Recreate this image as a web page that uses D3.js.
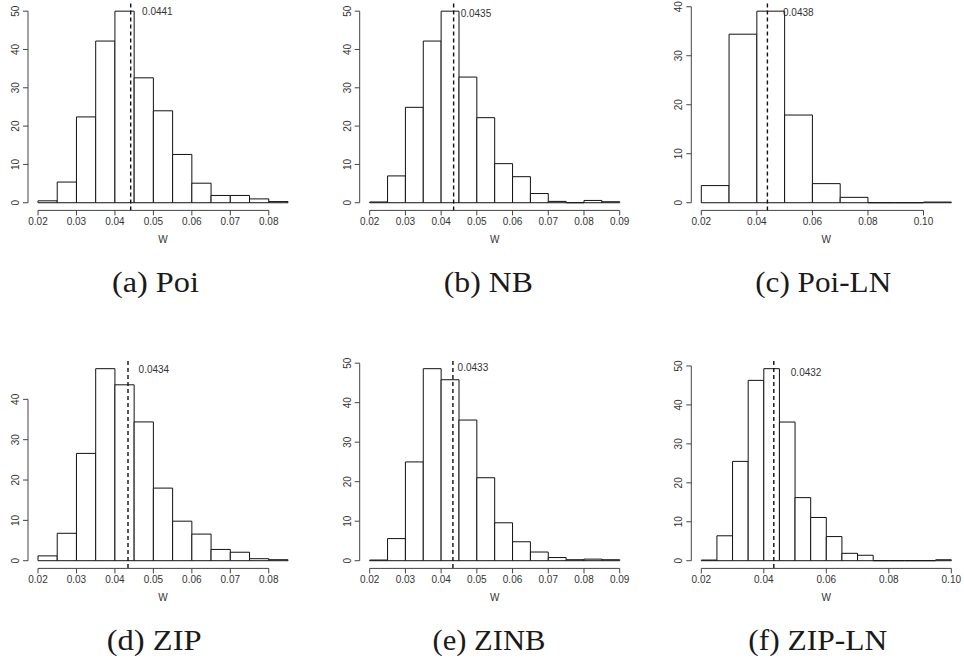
<!DOCTYPE html>
<html>
<head>
<meta charset="utf-8">
<script src="https://cdn.jsdelivr.net/npm/d3@7"></script>
<style>
  body { margin: 0; background: #fff; }
  svg { display: block; }
  .tick-label { font-family: "Liberation Sans", Arial, sans-serif; font-size: 10px; fill: #333; }
</style>
</head>
<body>
<div id="chart"></div>
<script>
// panel captions
const captions = ['(a) Poi', '(b) NB', '(c) Poi-LN', '(d) ZIP', '(e) ZINB', '(f) ZIP-LN'];

// histogram breaks: first break and bin width
const binStart = [0.02, 0.02, 0.02, 0.02, 0.02, 0.02];
const binWidth = [0.005, 0.005, 0.01, 0.005, 0.005, 0.005];

// bar heights (density)
const densPoi = [0.5, 5.4, 22.4, 42.2, 50.0, 32.6, 24.0, 12.6, 5.1, 1.9, 1.9, 1.0, 0.3];
const densNB = [0.2, 7.0, 24.9, 42.2, 50.0, 32.8, 22.2, 10.2, 6.8, 2.4, 0.35, 0, 0.6, 0.26];
const densPoiLN = [3.5, 34.4, 39.1, 17.9, 3.9, 1.1, 0, 0, 0.14];
const densZIP = [1.2, 6.8, 26.6, 47.6, 43.6, 34.4, 18.0, 9.8, 6.6, 2.8, 2.1, 0.5, 0.25];
const densZINB = [0.17, 5.6, 25.0, 48.6, 45.8, 35.6, 21.0, 9.6, 4.8, 2.2, 0.8, 0.25, 0.4, 0.25];
const densZIPLN = [0.17, 6.4, 25.5, 46.3, 49.3, 35.6, 16.2, 11.1, 6.2, 1.9, 1.4, 0, 0, 0, 0, 0.25];
const densities = [densPoi, densNB, densPoiLN, densZIP, densZINB, densZIPLN];

// mean of W, drawn as dashed line
const means = [0.0441, 0.0435, 0.0438, 0.0434, 0.0433, 0.0432];

// axis tick values
const xTicks7 = [0.02, 0.03, 0.04, 0.05, 0.06, 0.07, 0.08];
const xTicks8 = [0.02, 0.03, 0.04, 0.05, 0.06, 0.07, 0.08, 0.09];
const xTicks5 = [0.02, 0.04, 0.06, 0.08, 0.10];
const xTicks = [xTicks7, xTicks8, xTicks5, xTicks7, xTicks8, xTicks5];
const yTicks50 = [0, 10, 20, 30, 40, 50];
const yTicks40 = [0, 10, 20, 30, 40];
const yTicks = [yTicks50, yTicks50, yTicks40, yTicks40, yTicks50, yTicks50];

const xLabel = 'W';

// layout (pixels) for each panel
const colLeft = [28, 359.7, 691.3];
const rowTop = [3.5, 361];
const rowHeight = [206.9, 207.4];
const plotWidth = 270;
const captionX = [155.4, 488.3, 823.2, 154.2, 489, 817.8];
const captionW = [87, 89, 136, 95, 113, 139];
const captionBase = [291.7, 650];
// mean label offset: pixels right of the line, height in data units
const labelDx = [11.4, 7, 15.6, 10.6, 4.7, 17];
const labelY = [50.0, 49.5, 38.9, 47.3, 49.0, 48.3];

class HistogramGrid {
  constructor() {
    this.svg = d3.select('#chart').append('svg')
      .attr('width', 964)
      .attr('height', 664);
    this.fmtX = d3.format('.2f');
    this.fmtMean = d3.format('.4f');
  }

  draw() {
    densities.forEach((dens, i) => this.drawPanel(i, dens));
  }

  drawPanel(i, dens) {
    const col = i % 3, row = Math.floor(i / 3);
    const left = colLeft[col], top = rowTop[row], h = rowHeight[row];

    // bins from the breaks
    const bins = dens.map((d, k) => ({
      x0: binStart[i] + k * binWidth[i],
      x1: binStart[i] + (k + 1) * binWidth[i],
      value: d
    }));

    // R style: 4% padding around data range
    const xmin = bins[0].x0, xmax = bins[bins.length - 1].x1;
    const xpad = (xmax - xmin) * 0.04;
    const ymax = d3.max(dens);
    const ypad = ymax * 0.04;

    const x = d3.scaleLinear()
      .domain([xmin - xpad, xmax + xpad])
      .range([left, left + plotWidth]);
    const y = d3.scaleLinear()
      .domain([-ypad, ymax + ypad])
      .range([top + h, top]);

    const g = this.svg.append('g').attr('class', 'panel');

    // bars (paths so zero-height bins still show as a line)
    g.selectAll('path.bar')
      .data(bins)
      .enter()
      .append('path')
      .attr('class', 'bar')
      .attr('d', d => `M${x(d.x0)},${y(0)}V${y(d.value)}H${x(d.x1)}V${y(0)}Z`)
      .attr('fill', '#fff')
      .attr('stroke', '#111')
      .attr('stroke-width', 1);

    // dashed mean line
    g.append('line')
      .attr('x1', x(means[i])).attr('x2', x(means[i]))
      .attr('y1', top).attr('y2', top + h)
      .attr('stroke', '#111')
      .attr('stroke-width', 1.4)
      .attr('stroke-dasharray', '4,3');

    g.append('text')
      .attr('class', 'tick-label')
      .attr('x', x(means[i]) + labelDx[i])
      .attr('y', y(labelY[i]))
      .attr('dy', '0.35em')
      .text(this.fmtMean(means[i]));

    // x axis
    const xAxisY = top + h;
    const xt = xTicks[i];
    const xAxis = g.append('g');
    xAxis.append('line')
      .attr('x1', x(xt[0])).attr('x2', x(xt[xt.length - 1]))
      .attr('y1', xAxisY).attr('y2', xAxisY)
      .attr('stroke', '#444');
    xAxis.selectAll('line.tick')
      .data(xt)
      .enter()
      .append('line')
      .attr('class', 'tick')
      .attr('x1', d => x(d)).attr('x2', d => x(d))
      .attr('y1', xAxisY).attr('y2', xAxisY + 5)
      .attr('stroke', '#444');
    xAxis.selectAll('text')
      .data(xt)
      .enter()
      .append('text')
      .attr('class', 'tick-label')
      .attr('x', d => x(d))
      .attr('y', xAxisY + 11.5)
      .attr('dy', '0.35em')
      .attr('text-anchor', 'middle')
      .text(d => this.fmtX(d));

    g.append('text')
      .attr('class', 'tick-label')
      .attr('x', left + plotWidth / 2)
      .attr('y', xAxisY + 29.5)
      .attr('dy', '0.35em')
      .attr('text-anchor', 'middle')
      .text(xLabel);

    // y axis
    const yt = yTicks[i];
    const yAxis = g.append('g');
    yAxis.append('line')
      .attr('x1', left).attr('x2', left)
      .attr('y1', y(yt[0])).attr('y2', y(yt[yt.length - 1]))
      .attr('stroke', '#444');
    yAxis.selectAll('line.tick')
      .data(yt)
      .enter()
      .append('line')
      .attr('class', 'tick')
      .attr('x1', left - 5).attr('x2', left)
      .attr('y1', d => y(d)).attr('y2', d => y(d))
      .attr('stroke', '#444');
    yAxis.selectAll('text')
      .data(yt)
      .enter()
      .append('text')
      .attr('class', 'tick-label')
      .attr('transform', d => `translate(${left - 12.5},${y(d)}) rotate(-90)`)
      .attr('dy', '0.35em')
      .attr('text-anchor', 'middle')
      .text(d => d);

    // caption under the panel
    g.append('text')
      .attr('x', captionX[i] - captionW[i] / 2)
      .attr('y', captionBase[row])
      .attr('textLength', captionW[i])
      .attr('lengthAdjust', 'spacingAndGlyphs')
      .style('font-family', "'Liberation Serif', 'Times New Roman', Times, 'DejaVu Serif', serif")
      .style('font-size', '29px')
      .style('fill', '#1a1a1a')
      .text(captions[i]);
  }
}

document.addEventListener('DOMContentLoaded', () => {
  const grid = new HistogramGrid();
  grid.draw();
});
</script>
</body>
</html>
